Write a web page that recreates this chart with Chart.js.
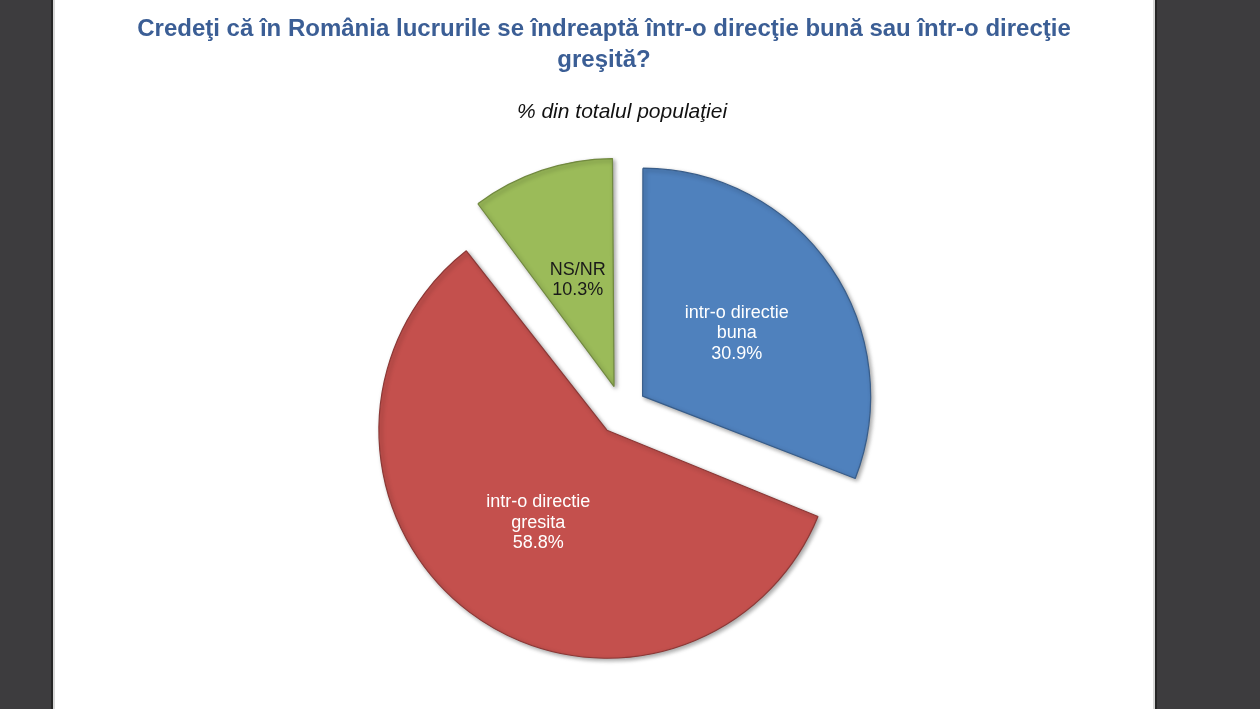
<!DOCTYPE html>
<html>
<head>
<meta charset="utf-8">
<script src="https://cdn.jsdelivr.net/npm/chart.js@4.4.1/dist/chart.umd.min.js"></script>
<style>
  html, body { margin: 0; padding: 0; width: 1260px; height: 709px; overflow: hidden; background: #3d3c3e; }
  #page { position: absolute; left: 55px; top: 0; width: 1098px; height: 709px; background: #ffffff;
          box-shadow: -2px 0 0 #d8d8d8, 2px 0 0 #d8d8d8, -4px 0 0 #262626, 4px 0 0 #262626; }
  canvas { display: block; }
</style>
</head>
<body>
<div id="page"><canvas id="c" width="1098" height="709"></canvas></div>
<script>
// ---- data ----
const titleLines = ["Credeţi că în România lucrurile se îndreaptă într-o direcţie bună sau într-o direcţie", "greşită?"];
const subtitleText = "% din totalul populaţiei";
const categories = ["intr-o directie buna", "intr-o directie gresita", "NS/NR"];
const values = [30.9, 58.8, 10.3];

// ---- style ----
const fillColors = ["#4f81bd", "#c4504d", "#9bbb59"];
const borderColors = ["#385d8a", "#8c3836", "#71893f"];
const labelColors = ["#ffffff", "#ffffff", "#1a1a1a"];
const EXPLODE = 100;   // Chart.js offset units (translation = offset/4)
const RADIUS = 228;
const LEFT_SPACE = 36;

function wrapLabel(ctx, text, maxW) {
  const words = text.split(" ");
  const lines = [];
  let cur = "";
  for (const w of words) {
    const test = cur ? cur + " " + w : w;
    if (cur && ctx.measureText(test).width > maxW) { lines.push(cur); cur = w; }
    else cur = test;
  }
  if (cur) lines.push(cur);
  return lines;
}

// empty layout box on the left so the pie sits right of the page centre while the title stays centred
const spacerPlugin = {
  id: 'leftSpacer',
  beforeInit(chart) {
    const box = {
      position: 'left', weight: 0, fullSize: false,
      options: {},
      left: 0, top: 0, right: 0, bottom: 0, width: 0, height: 0,
      isHorizontal() { return false; },
      update(maxWidth, maxHeight) { this.width = LEFT_SPACE; this.height = maxHeight; },
      getPadding() { return { left: 0, top: 0, right: 0, bottom: 0 }; },
      draw() {}
    };
    Chart.layouts.addBox(chart, box);
  }
};

const equalRadiusPlugin = {
  id: 'equalRadius',
  afterDatasetUpdate(chart, args) {
    const meta = args.meta;
    meta.data.forEach((arc, i) => {
      const off = (chart.data.datasets[0].offset[i] || 0) / 4;
      const fix = 1 - Math.sin(Math.min(Math.PI, arc.circumference || 0));
      arc.outerRadius = RADIUS - off * fix;
    });
  }
};

const shadowPlugin = {
  id: 'sliceShadow',
  beforeDatasetsDraw(chart) {
    const ctx = chart.ctx;
    ctx.save();
    ctx.shadowColor = 'rgba(0,0,0,0.35)';
    ctx.shadowBlur = 4;
    ctx.shadowOffsetX = 2;
    ctx.shadowOffsetY = 2;
  },
  afterDatasetsDraw(chart) {
    chart.ctx.restore();
  }
};

const labelPlugin = {
  id: 'sliceLabels',
  afterDraw(chart) {
    const ctx = chart.ctx;
    const meta = chart.getDatasetMeta(0);
    const ds = chart.data.datasets[0];
    ctx.save();
    ctx.font = '18px "Liberation Sans", Arial, sans-serif';
    ctx.textAlign = 'center';
    ctx.textBaseline = 'middle';
    meta.data.forEach((arc, i) => {
      const mid = (arc.startAngle + arc.endAngle) / 2;
      const t = (ds.offset[i] || 0) / 4;
      const d = t + RADIUS / 2;
      const x = arc.x + Math.cos(mid) * d;
      const y = arc.y + Math.sin(mid) * d;
      const lines = wrapLabel(ctx, chart.data.labels[i], 130);
      lines.push(values[i].toFixed(1) + "%");
      const lh = 20.5;
      const y0 = y - (lines.length - 1) * lh / 2 + 1.5;
      ctx.fillStyle = labelColors[i];
      lines.forEach((ln, k) => ctx.fillText(ln, x, y0 + k * lh));
    });
    ctx.restore();
  }
};

new Chart(document.getElementById('c'), {
  type: 'pie',
  data: {
    labels: categories,
    datasets: [{
      data: values,
      backgroundColor: fillColors,
      borderColor: borderColors,
      borderWidth: 1.2,
      offset: values.map(() => EXPLODE),
      hoverOffset: 0
    }]
  },
  plugins: [spacerPlugin, equalRadiusPlugin, shadowPlugin, labelPlugin],
  options: {
    responsive: false,
    animation: false,
    radius: RADIUS,
    layout: { padding: { left: 0, right: 0, top: 0, bottom: 13 } },
    plugins: {
      legend: { display: false },
      tooltip: { enabled: false },
      title: {
        display: true,
        text: titleLines,
        color: '#3b5e95',
        font: { family: '"Liberation Sans", Arial, sans-serif', size: 24, weight: 'bold', lineHeight: 1.3 },
        padding: { top: 14, bottom: 23 }
      },
      subtitle: {
        display: true,
        fullSize: false,
        text: subtitleText,
        color: '#111111',
        font: { family: '"Liberation Sans", Arial, sans-serif', size: 21, style: 'italic', lineHeight: 1.2 },
        padding: { top: 0, bottom: 0 }
      }
    }
  }
});
</script>
</body>
</html>
